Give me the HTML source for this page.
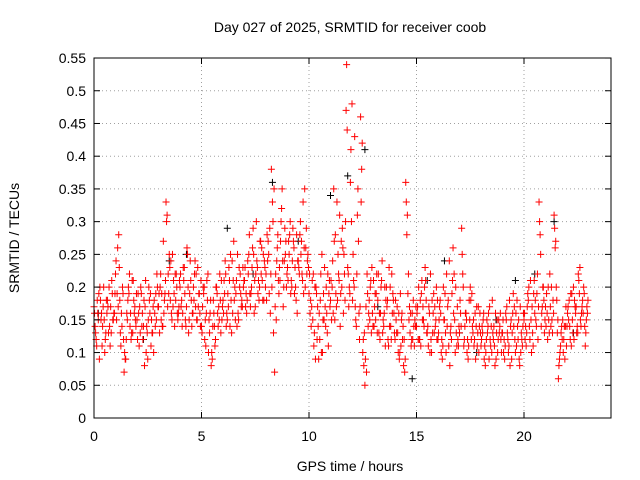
<!DOCTYPE html>
<html><head><meta charset="utf-8"><style>
body{margin:0;background:#fff}
svg{display:block;font-family:"Liberation Sans",sans-serif}
</style></head><body>
<svg id="chart" width="640" height="480" viewBox="0 0 640 480" xmlns="http://www.w3.org/2000/svg">
<rect width="640" height="480" fill="#fff"/>
<text x="350" y="32" font-size="14" text-anchor="middle">Day 027 of 2025, SRMTID for receiver coob</text>
<g id="grid"></g>
<g id="marks"></g>
<rect x="94" y="58" width="517" height="360" fill="none" stroke="#000" stroke-width="1"/>
<g id="axes"></g>
<text x="350" y="471" font-size="14" text-anchor="middle">GPS time / hours</text>
<text transform="translate(19,238) rotate(-90)" font-size="14" text-anchor="middle">SRMTID / TECUs</text>
</svg>
<script>
const xTicks=[0,5,10,15,20];
const yTicks=[0,0.05,0.1,0.15,0.2,0.25,0.3,0.35,0.4,0.45,0.5,0.55];
const yTickLabels=["0","0.05","0.1","0.15","0.2","0.25","0.3","0.35","0.4","0.45","0.5","0.55"];
const startA=0, startB=0.05, startC=0.025, startD=0.075, step=0.1;
const valsA=[17,12,15,18,14,10,16,20,13,15,22,26,18,14,7,12,20,16,13,17,15,11,19,14,21,9,16,13,18,15,17,22,14,19,31,25,16,21,18,15,20,14,23,17,13,21,16,24,15,19,14,19,11,22,16,9,14,20,17,13,18,24,15,21,13,27,19,16,22,17,21,16,25,19,29,17,23,20,26,18,22,27,16,33,7,24,19,30,17,25,23,28,20,26,18,24,30,21,35,22,19,14,22,9,17,12,25,15,20,11,18,24,15,33,21,27,16,30,23,19,48,20,14,27,46,10,5,22,18,13,21,15,18,12,24,16,20,11,14,19,12,17,9,15,8,36,19,13,16,11,14,20,11,17,23,13,16,10,19,15,12,18,9,15,22,11,14,26,10,17,13,29,11,16,9,20,14,12,17,10,11,15,8,13,17,10,14,9,12,16,13,9,17,11,15,19,10,14,8,12,15,11,18,21,13,16,19,33,14,20,17,12,22,15,31,20,6,11,15,9,14,18,11,20,16,13,23,17,19,15];
const valsB=[14,18,9,16,20,13,17,11,19,16,15,28,11,19,9,15,22,13,18,14,19,13,16,8,14,20,11,17,14,20,13,19,16,33,22,18,25,14,20,17,17,23,15,25,19,14,18,22,17,14,17,12,21,15,8,18,12,16,22,15,21,14,17,25,16,20,14,23,17,20,17,24,19,23,16,30,21,27,18,23,28,19,38,13,22,28,21,35,24,20,27,19,29,23,16,22,27,19,26,25,16,21,13,19,9,22,15,17,13,21,15,35,19,25,14,29,22,54,17,41,25,17,31,12,38,8,17,14,20,16,17,22,13,20,15,11,18,14,22,16,15,10,19,12,7,28,15,11,18,14,17,12,21,14,18,11,22,13,17,12,15,10,20,13,17,8,19,22,13,11,16,22,14,10,18,12,15,9,13,16,14,9,12,16,11,13,8,15,13,10,10,16,12,8,13,17,11,15,10,14,12,17,14,10,19,15,12,28,17,13,19,15,14,18,26,13,9,14,12,17,17,12,15,18,13,21,14,16,11,16];
const valsC=[16,11,19,15,17,12,18,14,21,16,24,17,13,20,10,16,19,12,21,15,12,17,14,18,10,15,19,13,16,22,19,15,27,21,17,23,15,19,22,16,22,16,19,26,15,18,20,17,23,16,13,20,16,10,18,14,11,19,15,21,16,22,19,14,24,18,21,15,19,23,23,18,28,20,25,22,19,27,21,24,18,25,22,30,17,26,23,32,20,27,21,30,24,19,28,23,25,33,20,24,22,17,11,20,14,18,10,23,16,19,21,16,28,18,31,20,25,47,22,36,18,43,22,16,33,12,9,19,15,23,14,19,22,16,13,20,17,23,12,18,18,13,10,16,12,33,22,16,12,15,16,12,19,15,21,14,10,18,13,20,13,16,11,19,14,24,12,16,20,12,18,25,12,15,11,18,13,16,11,14,12,16,10,14,12,18,11,13,15,12,15,11,13,18,9,14,16,12,17,11,16,13,20,15,11,18,22,30,16,18,14,20,17,13,29,18,8,13,10,14,16,14,19,12,17,22,15,18,14,17];
const valsD=[13,16,20,11,15,18,13,17,15,19,19,23,16,12,9,18,14,21,16,19,16,20,12,17,13,18,15,10,19,17,20,14,18,30,19,24,17,22,16,21,18,21,14,20,24,16,22,15,19,21,20,15,18,13,10,16,20,14,18,17,19,16,23,18,21,15,25,20,18,21,19,22,17,26,21,24,18,22,25,20,24,29,20,35,15,21,27,24,29,22,25,21,27,20,24,28,22,26,29,23,18,15,20,12,16,10,19,14,22,17,20,27,17,22,19,26,18,44,20,30,21,15,35,17,42,13,7,16,21,14,19,13,16,21,14,18,12,20,16,13,13,16,11,14,9,31,17,12,14,17,12,18,15,20,13,17,12,16,14,18,17,12,15,10,18,13,21,15,11,14,14,20,16,12,15,19,11,14,17,13,13,11,15,9,14,12,16,10,14,13,12,15,10,14,16,12,18,9,13,16,14,19,12,17,21,14,17,25,20,15,16,13,20,16,27,15,10,12,14,11,15,19,13,17,14,19,16,20,13,18];
const blackT=[0.2,1.0,2.3,3.5,4.3,6.2,7.4,8.3,9.5,11.0,11.8,12.6,13.2,14.8,15.5,16.3,17.0,17.8,18.7,19.6,20.5,21.4,22.3];
const blackV=[0.16,0.22,0.12,0.24,0.25,0.29,0.22,0.36,0.27,0.34,0.37,0.41,0.17,0.06,0.21,0.24,0.13,0.10,0.15,0.21,0.22,0.30,0.13];
const X=t=>94+t*21.5, Y=v=>418-v*654.5;
const NS="http://www.w3.org/2000/svg";
const grid=document.getElementById('grid'),axes=document.getElementById('axes'),marks=document.getElementById('marks');
function line(p,x1,y1,x2,y2,st,dash){const l=document.createElementNS(NS,'line');l.setAttribute('x1',x1);l.setAttribute('y1',y1);l.setAttribute('x2',x2);l.setAttribute('y2',y2);l.setAttribute('stroke',st);if(dash)l.setAttribute('stroke-dasharray',dash);p.appendChild(l);return l;}
function txt(p,x,y,s,a){const t=document.createElementNS(NS,'text');t.setAttribute('x',x);t.setAttribute('y',y);t.setAttribute('font-size','14');t.setAttribute('text-anchor',a);t.textContent=s;p.appendChild(t);return t;}
yTicks.forEach((v,i)=>{const y=Y(v);
 if(i>0&&i<yTicks.length-1){const g=line(grid,94,y,611,y,'#a0a0a0','1,3');
 
 }
 line(axes,94,y,100,y,'#000');line(axes,611,y,605,y,'#000');
 const t=txt(axes,86,y+5,yTickLabels[i],'end');
 
 });
xTicks.forEach((v,i)=>{const x=X(v);
 if(i>0){const g=line(grid,x,58,x,418,'#a0a0a0','1,3');
 
 }
 line(axes,x,418,x,412,'#000');line(axes,x,58,x,64,'#000');
 const t=txt(axes,x,441,String(v),'middle');
 
 });
function plus(t,v,c,name){const x=X(t),y=Y(v);const p=document.createElementNS(NS,'path');
 p.setAttribute('d',`M${x-3.5},${y}h7M${x},${y-3.5}v7`);p.setAttribute('stroke',c);p.setAttribute('fill','none');
 
 
 marks.appendChild(p);}
blackT.forEach((t,i)=>plus(t,blackV[i],'#000','black-point'));
valsA.forEach((v,i)=>plus(startA+i*step,v/100,'#ff0000','red-point'));
valsB.forEach((v,i)=>plus(startB+i*step,v/100,'#ff0000','red-point'));
valsC.forEach((v,i)=>plus(startC+i*step,v/100,'#ff0000','red-point'));
valsD.forEach((v,i)=>plus(startD+i*step,v/100,'#ff0000','red-point'));
</script>
</body></html>
